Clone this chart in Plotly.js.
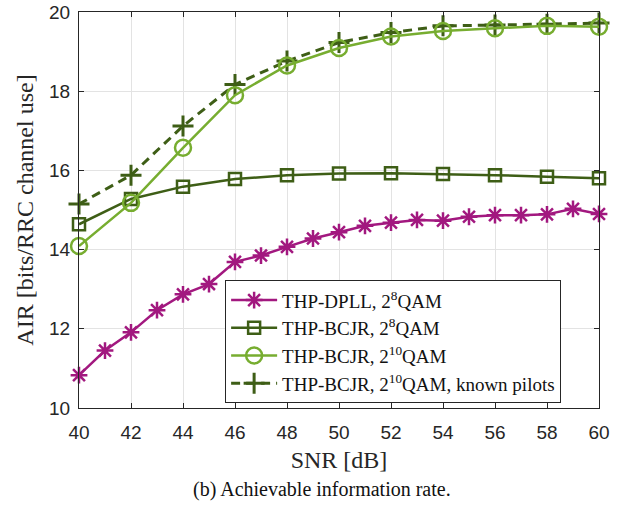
<!DOCTYPE html>
<html>
<head>
<meta charset="utf-8">
<script src="https://cdn.plot.ly/plotly-3.0.1.min.js"></script>
<style>html,body{margin:0;padding:0;background:#fff;}#chart{width:626px;height:512px;}</style>
</head>
<body>
<div id="chart"></div>
<script>
// SNR values [dB]
const snrDense = [40,41,42,43,44,45,46,47,48,49,50,51,52,53,54,55,56,57,58,59,60];
const snrSparse = [40,42,44,46,48,50,52,54,56,58,60];

// AIR [bits/RRC channel use]
const dpll256 = [10.83,11.45,11.91,12.47,12.87,13.13,13.69,13.85,14.07,14.28,14.44,14.60,14.68,14.75,14.73,14.83,14.87,14.87,14.89,15.03,14.90];
const bcjr256 = [14.64,15.28,15.59,15.78,15.88,15.92,15.93,15.91,15.88,15.84,15.80];
const bcjr1024 = [14.09,15.18,16.57,17.90,18.65,19.09,19.38,19.52,19.59,19.65,19.63];
const bcjr1024Pilots = [15.15,15.88,17.12,18.17,18.76,19.23,19.48,19.65,19.67,19.69,19.72];

const seriesNames = [
  'THP-DPLL, 2<sup>8</sup>QAM',
  'THP-BCJR, 2<sup>8</sup>QAM',
  'THP-BCJR, 2<sup>10</sup>QAM',
  'THP-BCJR, 2<sup>10</sup>QAM, known pilots'
];
const xTicks = [40,42,44,46,48,50,52,54,56,58,60];
const yTicks = [10,12,14,16,18,20];

const cMag = '#a2187f', cDark = '#3e5e16', cLight = '#77ad30';

const traces = [
  {x: snrDense, y: dpll256, name: seriesNames[0], mode: 'lines+markers', legendrank: 1,
   line: {color: cMag, width: 2.5},
   marker: {symbol: 'asterisk-open', size: 14, color: cMag, line: {color: cMag, width: 2.5}}},
  {x: snrSparse, y: bcjr256, name: seriesNames[1], mode: 'lines+markers', legendrank: 2,
   line: {color: cDark, width: 2.5},
   marker: {symbol: 'square-open', size: 12, color: cDark, line: {color: cDark, width: 2.5}}},
  {x: snrSparse, y: bcjr1024Pilots, name: seriesNames[3], mode: 'lines+markers', legendrank: 4,
   line: {color: cDark, width: 3, dash: '9px,6px'},
   marker: {symbol: 'cross-thin-open', size: 15, color: cDark, line: {color: cDark, width: 3}}},
  {x: snrSparse, y: bcjr1024, name: seriesNames[2], mode: 'lines+markers', legendrank: 3,
   line: {color: cLight, width: 2.5},
   marker: {symbol: 'circle-open', size: 16, color: cLight, line: {color: cLight, width: 2.5}}}
];
traces.forEach(t => t.cliponaxis = false);

const axisCommon = {
  showline: true, linecolor: '#262626', linewidth: 1, mirror: 'ticks',
  ticks: 'inside', ticklen: 5, tickcolor: '#262626', tickwidth: 1,
  showgrid: true, gridcolor: '#e3e3e3', gridwidth: 1, zeroline: false,
  tickfont: {family: 'Liberation Sans, Arial, sans-serif', size: 19, color: '#262626'}
};

const layout = {
  width: 626, height: 512,
  margin: {l: 79, r: 27, t: 12, b: 104},
  paper_bgcolor: '#fff', plot_bgcolor: '#fff',
  showlegend: true,
  xaxis: Object.assign({}, axisCommon, {
    range: [40, 60], tickvals: xTicks, ticktext: xTicks.map(String),
    ticklabelstandoff: 7,
    title: {text: 'SNR [dB]', standoff: 9, font: {family: 'Liberation Serif, Times New Roman, serif', size: 24, color: '#262626'}}
  }),
  yaxis: Object.assign({}, axisCommon, {
    range: [10, 20], tickvals: yTicks, ticktext: yTicks.map(String),
    ticklabelstandoff: 4,
    title: {text: 'AIR [bits/RRC channel use]', standoff: 8, font: {family: 'Liberation Serif, Times New Roman, serif', size: 24, color: '#262626'}}
  }),
  legend: {
    x: 0.281, y: 0.012, xanchor: 'left', yanchor: 'bottom',
    bgcolor: '#fff', bordercolor: '#262626', borderwidth: 1,
    font: {family: 'Liberation Serif, Times New Roman, serif', size: 19, color: '#111'},
    tracegroupgap: 0, itemwidth: 46
  },
  annotations: [{
    text: '(b) Achievable information rate.', xref: 'paper', yref: 'paper',
    x: 0.467, y: -0.207, xanchor: 'center', yanchor: 'middle', showarrow: false,
    font: {family: 'Liberation Serif, Times New Roman, serif', size: 20, color: '#111'}
  }]
};

Plotly.newPlot('chart', traces, layout, {displayModeBar: false, staticPlot: true});
</script>
</body>
</html>
